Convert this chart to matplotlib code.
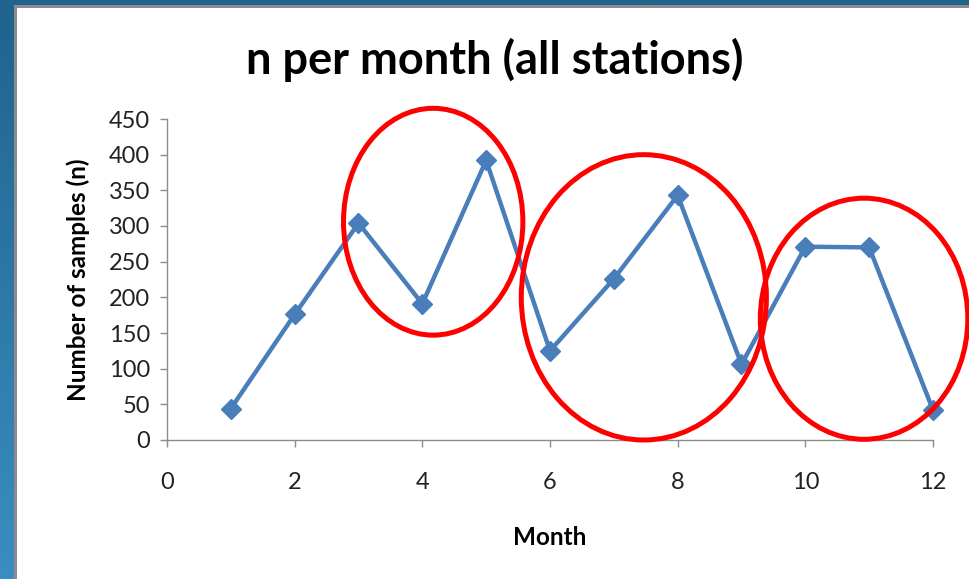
import numpy as np
import matplotlib
matplotlib.use('Agg')
import matplotlib.pyplot as plt
from matplotlib.patches import Ellipse, Rectangle

plt.rcParams['font.family'] = ['Lato', 'DejaVu Sans']

# data
months = [1, 2, 3, 4, 5, 6, 7, 8, 9, 10, 11, 12]
samples = [44, 176, 304, 191, 392, 125, 226, 343, 106, 271, 270, 42]
x_ticks = [0, 2, 4, 6, 8, 10, 12]
y_ticks = [0, 50, 100, 150, 200, 250, 300, 350, 400, 450]

# highlight ellipses: centre month, centre n, width (months), height (n)
ell_x = [4.17, 7.47, 10.92]
ell_y = [306, 200, 170]
ell_w = [2.81, 3.84, 3.25]
ell_h = [318, 400, 338]

W, H = 970, 579
fig = plt.figure(figsize=(W / 100, H / 100), dpi=100)

# slide background: blue gradient, grey rim, white chart area
bg = fig.add_axes([0, 0, 1, 1])
grad = np.linspace(0, 1, 256).reshape(-1, 1)
top_c = np.array([0x1f, 0x63, 0x8e]) / 255
bot_c = np.array([0x3b, 0x8d, 0xc2]) / 255
img = top_c + grad * (bot_c - top_c)
bg.imshow(img.reshape(256, 1, 3), aspect='auto', extent=[0, W, 0, H])
bg.add_patch(Rectangle((14, 0), W, H - 5, color='#8c8c8c', lw=0))
bg.add_patch(Rectangle((17, 0), W, H - 8, color='white', lw=0))
bg.set_xlim(0, W)
bg.set_ylim(0, H)
bg.axis('off')

ax = fig.add_axes([167 / W, (H - 440) / H, (933 - 167) / W, (440 - 119) / H])
ax.set_facecolor('none')
ax.plot(months, samples, '-D', color='#4a7ebb', lw=3.2, markersize=10, clip_on=False, zorder=3)

for cx, cy, w, h in zip(ell_x, ell_y, ell_w, ell_h):
    ax.add_patch(Ellipse((cx, cy), w, h, fill=False, ec='#ff0000', lw=3.6, clip_on=False, zorder=4))

ax.set_xlim(0, 12)
ax.set_ylim(0, 450)
ax.set_xticks(x_ticks)
ax.set_yticks(y_ticks)
for s in ['top', 'right']:
    ax.spines[s].set_visible(False)
for s in ['left', 'bottom']:
    ax.spines[s].set_color('#8c8c8c')
    ax.spines[s].set_linewidth(1)
ax.tick_params(colors='#8c8c8c', labelcolor='#222222', length=5, width=1, labelsize=17)
ax.tick_params(axis='x', pad=18)
ax.tick_params(axis='y', pad=7)

ax.set_ylabel('Number of samples (n)', fontsize=17.5, fontweight='bold', labelpad=14)
ax.set_xlabel('Month', fontsize=17.5, fontweight='bold', labelpad=24)
fig.text(495 / W, 1 - 60 / H, 'n per month (all stations)', ha='center', va='center',
         fontsize=32.5, fontweight='bold')

fig.savefig('out.png', dpi=100)
